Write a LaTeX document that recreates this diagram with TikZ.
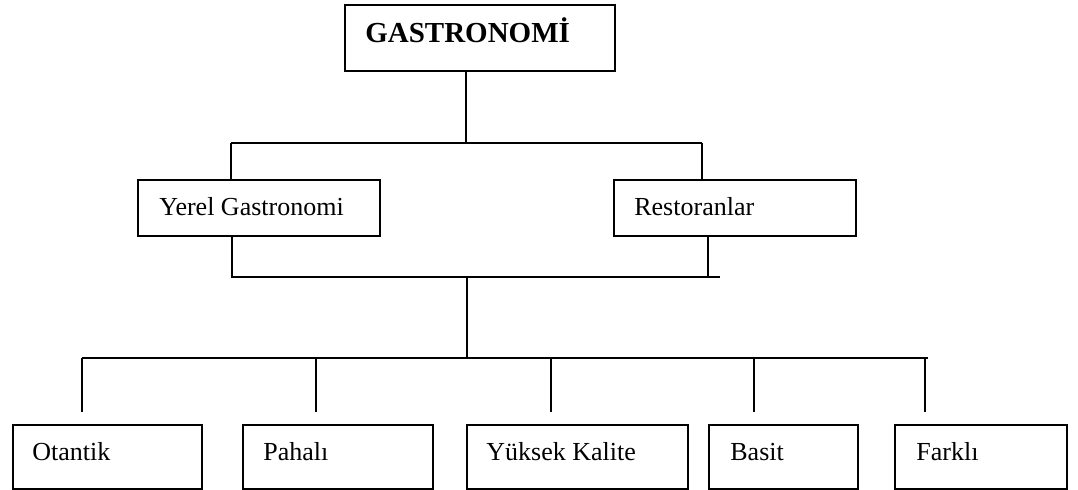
\documentclass[tikz,border=0pt]{standalone}
\usepackage{fontspec}
\setmainfont{Liberation Serif}

\begin{document}
\begin{tikzpicture}[x=0.02cm, y=-0.02cm,
    kutu/.style={draw, line width=0.9pt, inner sep=0pt, anchor=north west},
    yazi/.style={anchor=base west, inner sep=0pt, font=\fontsize{14.8}{17}\selectfont},
    hat/.style={line width=0.7pt}]
    \useasboundingbox (0,0) rectangle (1078,490);

    % Top level
    \node[kutu, minimum width=5.4cm, minimum height=1.32cm] (ust) at (344,4) {};
    \node[yazi, font=\fontsize{16.5}{19}\selectfont\bfseries] (tust) at (365,42) {GASTRONOMİ};

    % Second level
    \node[kutu, minimum width=4.84cm, minimum height=1.12cm] (yerel) at (137,179) {};
    \node[yazi] (tyerel) at (159,215) {Yerel Gastronomi};
    \node[kutu, minimum width=4.84cm, minimum height=1.12cm] (resto) at (613,179) {};
    \node[yazi] (tresto) at (634,215) {Restoranlar};

    % Third level
    \node[kutu, minimum width=3.78cm, minimum height=1.28cm] (otantik) at (12,424) {};
    \node[yazi] (totantik) at (32,460) {Otantik};
    \node[kutu, minimum width=3.8cm, minimum height=1.28cm] (pahali) at (242,424) {};
    \node[yazi] (tpahali) at (263,460) {Pahalı};
    \node[kutu, minimum width=4.42cm, minimum height=1.28cm] (yuksek) at (466,424) {};
    \node[yazi] (tyuksek) at (486,460) {Yüksek Kalite};
    \node[kutu, minimum width=2.98cm, minimum height=1.28cm] (basit) at (708,424) {};
    \node[yazi] (tbasit) at (730,460) {Basit};
    \node[kutu, minimum width=3.44cm, minimum height=1.28cm] (farkli) at (894,424) {};
    \node[yazi] (tfarkli) at (916,460) {Farklı};

    % Connectors, top to second level
    \coordinate (d1) at (466,143);
    \coordinate (s1) at (231,143);
    \coordinate (s2) at (702,143);
    \draw[hat] (ust.south -| d1) -- (d1);
    \draw[hat] (s1) -- (s2);
    \draw[hat] (s1) -- (s1 |- yerel.north);
    \draw[hat] (s2) -- (s2 |- resto.north);

    % Connectors, second to third level
    \coordinate (o1) at (232,277);
    \coordinate (o2) at (708,277);
    \coordinate (o3) at (720,277);
    \draw[hat] (yerel.south -| o1) -- (o1) -- (o3);
    \draw[hat] (resto.south -| o2) -- (o2);
    \coordinate (m1) at (467,277);
    \coordinate (b1) at (82,358);
    \coordinate (b2) at (928,358);
    \draw[hat] (m1) -- (m1 |- b1);
    \draw[hat] (b1) -- (b2);
    \foreach \x/\n in {82/otantik, 316/pahali, 551/yuksek, 754/basit, 925/farkli}{
        \coordinate (u\n) at (\x,412);
        \draw[hat] (b1 -| u\n) -- (u\n);
    }
\end{tikzpicture}
\end{document}
